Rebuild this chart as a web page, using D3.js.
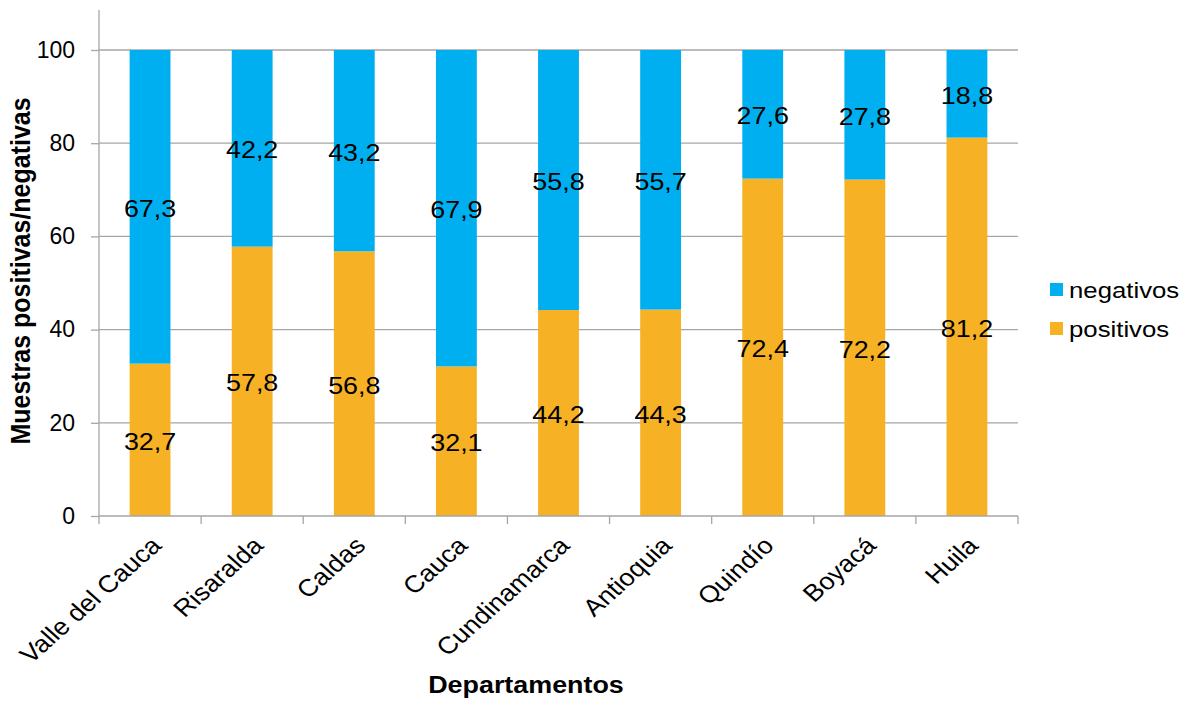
<!DOCTYPE html>
<html>
<head>
<meta charset="utf-8">
<script src="https://cdn.jsdelivr.net/npm/d3@7"></script>
<style>
  html, body { margin: 0; padding: 0; background: #fff; }
  svg { display: block; font-family: "Liberation Sans", Arial, sans-serif; }
</style>
</head>
<body>
<svg id="chart" width="1192" height="702"></svg>
<script>
// Departments on the horizontal axis
const departamentos = ["Valle del Cauca", "Risaralda", "Caldas", "Cauca", "Cundinamarca", "Antioquia", "Quindío", "Boyacá", "Huila"];
// Percentage of positive samples per department
const positivos = [32.7, 57.8, 56.8, 32.1, 44.2, 44.3, 72.4, 72.2, 81.2];
// Percentage of negative samples per department
const negativos = [67.3, 42.2, 43.2, 67.9, 55.8, 55.7, 27.6, 27.8, 18.8];
// Vertical axis ticks
const yTicks = [0, 20, 40, 60, 80, 100];

const seriesNames = ["positivos", "negativos"];
const colors = { positivos: "#F7B125", negativos: "#00AFEF" };

const rows = departamentos.map((d, i) => ({ dep: d, positivos: positivos[i], negativos: negativos[i] }));
const stacked = d3.stack().keys(seriesNames)(rows);

const svg = d3.select("#chart");
const plotLeft = 99, plotRight = 1018, plotTop = 10, plotBottom = 516, valTop = 50;
const sx = 1.12; // slightly wide lettering

const x = d3.scaleBand().domain(departamentos).range([plotLeft, plotRight]).paddingInner(0.6).paddingOuter(0.3);
const y = d3.scaleLinear().domain([0, 100]).range([plotBottom, valTop]);

const gridColor = "#A6A6A6";

// Horizontal gridlines
svg.append("g").selectAll("line").data(yTicks.filter(t => t > 0)).join("line")
  .attr("x1", plotLeft).attr("x2", plotRight)
  .attr("y1", d => y(d)).attr("y2", d => y(d))
  .attr("stroke", gridColor).attr("stroke-width", 1.3);

// Stacked bars
const layers = svg.append("g").selectAll("g").data(stacked).join("g")
  .attr("fill", d => colors[d.key]);
layers.selectAll("rect").data(d => d).join("rect")
  .attr("x", d => x(d.data.dep))
  .attr("width", x.bandwidth())
  .attr("y", d => y(d[1]))
  .attr("height", d => y(d[0]) - y(d[1]));

// Value labels centred in each segment
const fmt = v => d3.format(".1f")(v).replace(".", ",");
stacked.forEach(layer => {
  svg.append("g").selectAll("text").data(layer).join("text")
    .attr("transform", d => `translate(${x(d.data.dep) + x.bandwidth() / 2},${y((d[0] + d[1]) / 2)}) scale(${sx},1)`)
    .attr("dy", "0.42em")
    .attr("text-anchor", "middle")
    .attr("font-size", 24)
    .attr("fill", "#000")
    .text(d => fmt(d.data[layer.key]));
});

// Y axis
const yAxis = svg.append("g").attr("transform", `translate(${plotLeft},0)`)
  .call(d3.axisLeft(y).tickValues(yTicks).tickSize(8).tickPadding(16));
yAxis.select(".domain").remove();
yAxis.selectAll(".tick line").attr("stroke", gridColor).attr("stroke-width", 1.3);
yAxis.selectAll(".tick text").attr("font-size", 23).attr("fill", "#000")
  .attr("font-family", "Liberation Sans, Arial, sans-serif");
svg.append("line").attr("x1", plotLeft).attr("x2", plotLeft).attr("y1", plotTop).attr("y2", plotBottom)
  .attr("stroke", gridColor).attr("stroke-width", 1.3);

// X axis with category boundary ticks
const boundaries = departamentos.map((d, i) => plotLeft + i * (plotRight - plotLeft) / departamentos.length).concat([plotRight]);
svg.append("line").attr("x1", plotLeft).attr("x2", plotRight).attr("y1", plotBottom).attr("y2", plotBottom)
  .attr("stroke", gridColor).attr("stroke-width", 1.3);
svg.append("g").selectAll("line").data(boundaries).join("line")
  .attr("x1", d => d).attr("x2", d => d)
  .attr("y1", plotBottom).attr("y2", plotBottom + 8)
  .attr("stroke", gridColor).attr("stroke-width", 1.3);

// Rotated category labels
svg.append("g").selectAll("text").data(departamentos).join("text")
  .attr("transform", d => `translate(${x(d) + x.bandwidth() / 2 + 6},${plotBottom + 25}) scale(${sx},1) rotate(-45)`)
  .attr("text-anchor", "end")
  .attr("dy", "0.35em")
  .attr("font-size", 24)
  .attr("fill", "#000")
  .text(d => d);

// Axis titles
svg.append("text")
  .attr("transform", `translate(30,271) scale(${sx},1) rotate(-90)`)
  .attr("text-anchor", "middle")
  .attr("font-size", 25).attr("font-weight", "bold")
  .text("Muestras positivas/negativas");
svg.append("text")
  .attr("transform", `translate(526,693) scale(${sx},1)`)
  .attr("text-anchor", "middle")
  .attr("font-size", 24).attr("font-weight", "bold")
  .text("Departamentos");

// Legend
const legendItems = ["negativos", "positivos"];
const legend = svg.append("g").selectAll("g").data(legendItems).join("g")
  .attr("transform", (d, i) => `translate(1050,${283 + i * 39})`);
legend.append("rect").attr("width", 13).attr("height", 13).attr("fill", d => colors[d]);
legend.append("text")
  .attr("transform", `translate(19,6.5) scale(${sx},1)`)
  .attr("dy", "0.35em")
  .attr("font-size", 23).attr("fill", "#000").text(d => d);
</script>
</body>
</html>
